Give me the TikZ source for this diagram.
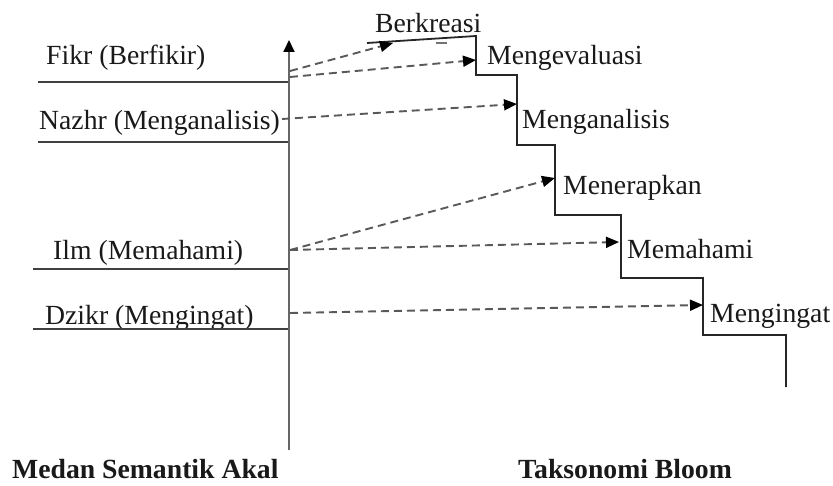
\documentclass[tikz,border=0pt]{standalone}
\usepackage{fontspec}
\setmainfont{Liberation Serif}
\usetikzlibrary{arrows.meta}
\begin{document}
\begin{tikzpicture}[x=1pt,y=-1pt,
  lbl/.style={anchor=base west,inner sep=0pt,font=\fontsize{27.7}{32}\selectfont,text=black!90},
  ttl/.style={lbl,font=\fontsize{27.7}{32}\selectfont\bfseries},
  rule/.style={line width=1.6pt,draw=black!75},
  axisline/.style={line width=2pt,draw=black!60,-{Triangle[length=12pt,width=11pt,color=black]}},
  stair/.style={line width=1.8pt,draw=black!85},
  link/.style={line width=1.9pt,draw=black!65,dash pattern=on 8pt off 5pt,
    -{Triangle[length=13pt,width=11pt,color=black]}}]
\useasboundingbox (0,0) rectangle (833,486);

% left labels
\node[lbl] (fikr) at (46,65) {Fikr (Berfikir)};
\node[lbl] (nazhr) at (39,130) {Nazhr (Menganalisis)};
\node[lbl] (ilm) at (53,260) {Ilm (Memahami)};
\node[lbl] (dzikr) at (45,325) {Dzikr (Mengingat)};

% underlines
\draw[rule] (38,82) -- (289,82);
\draw[rule] (38,142) -- (289,142);
\draw[rule] (33,269) -- (289,269);
\draw[rule] (33,329) -- (289,329);

% axis
\coordinate (axb) at (289,450);
\coordinate (axt) at (289,40);
\draw[axisline] (axb) -- (axt);

% staircase
\draw[stair] (367,43) -- (476,36) -- (476,75) -- (517,75) -- (517,145) -- (555,145)
  -- (555,215) -- (621,215) -- (621,278) -- (703,278) -- (703,335) -- (786,335) -- (786,387);
\draw[line width=1.4pt,draw=black!55] (436,43) -- (447,43);

% right labels
\node[lbl] (cre) at (375,33) {Berkreasi};
\node[lbl] (eva) at (487,65) {Mengevaluasi};
\node[lbl] (ana) at (522,129) {Menganalisis};
\node[lbl] (app) at (563,195) {Menerapkan};
\node[lbl] (und) at (627,259) {Memahami};
\node[lbl] (rem) at (710,323) {Mengingat};

% bottom titles
\node[ttl] (t1) at (12,478) {Medan Semantik Akal};
\node[ttl] (t2) at (518,478) {Taksonomi Bloom};

% connector points
\coordinate (s1) at (290,71);
\coordinate (s2) at (290,77);
\coordinate (s3) at (282,119);
\coordinate (s4) at (290,250);
\coordinate (s5) at (290,313);
\coordinate (e1) at (393,43);
\coordinate (e2) at (476,60);
\coordinate (e3) at (517,104);
\coordinate (e4) at (555,178);
\coordinate (e5) at (619,242);
\coordinate (e6) at (703,305);

\draw[link] (s1) -- (e1);
\draw[link] (s2) -- (e2);
\draw[link] (s3) -- (e3);
\draw[link] (s4) -- (e4);
\draw[link] (s4) -- (e5);
\draw[link] (s5) -- (e6);
\end{tikzpicture}
\end{document}
